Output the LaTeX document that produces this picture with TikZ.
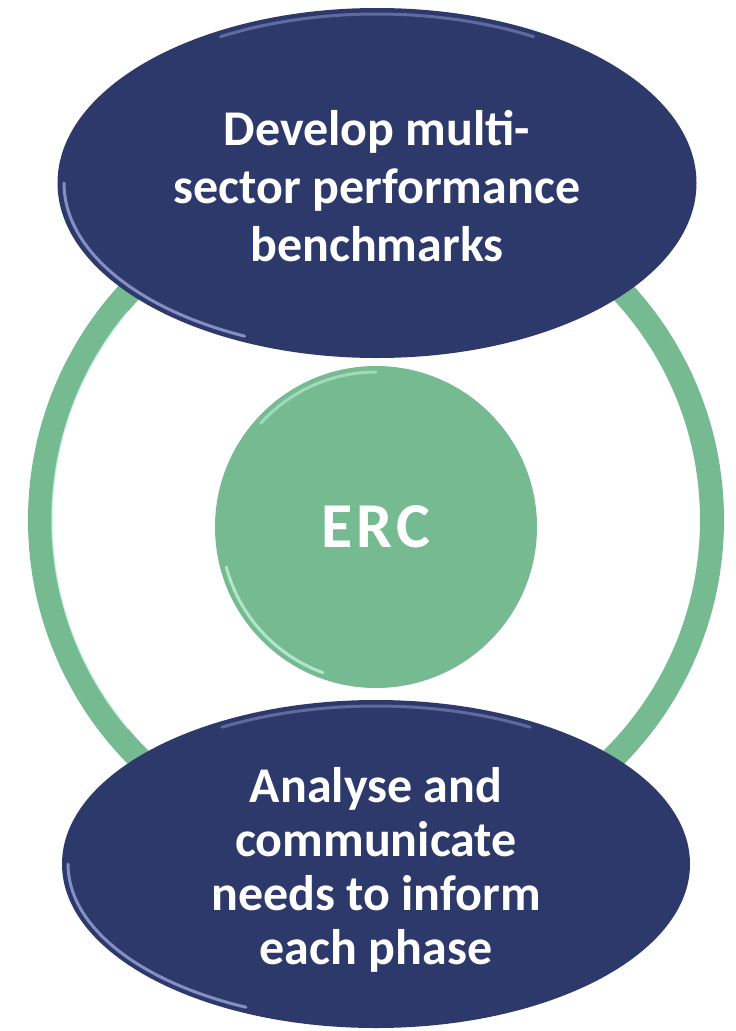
\documentclass[tikz,border=0pt]{standalone}
\usepackage{fontspec}
\setmainfont{Carlito}
\usepackage{tikz}
\usetikzlibrary{shapes.geometric}
\definecolor{navy}{RGB}{46,57,107}
\definecolor{navyhi}{RGB}{170,180,235}
\definecolor{mint}{RGB}{117,186,145}
\definecolor{minthi}{RGB}{205,250,228}
\tikzset{
    goal/.style={
        ellipse,
        fill=navy,
        inner sep=0pt
    },
    goaltext/.style={
        text=white,
        inner sep=0pt,
        align=center,
        font=\bfseries\fontsize{50}{58}\selectfont
    },
    hub/.style={
        circle,
        fill=mint,
        text=white,
        inner sep=0pt,
        minimum size=322pt,
        font=\bfseries\fontsize{64}{70}\selectfont\addfontfeature{LetterSpace=6}
    },
    gloss/.style={
        line width=3pt,
        opacity=0.7,
        line cap=round
    }
}

\begin{document}
\begin{tikzpicture}[x=1pt, y=-1pt]
  \useasboundingbox (0,0) rectangle (736,1031);

  % Outer ring
  \draw[mint, line width=24pt] (376,520) circle[radius=336pt];
  \draw[gloss, minthi, line width=1.5pt] (376,520) ++(140:324) arc[start angle=140, end angle=220, radius=324];

  % Centre of the cycle
  \node[hub] (erc) at (376,527) {ERC};
  \draw[gloss, minthi] (erc.center) ++(165:155) arc[start angle=165, end angle=110, radius=155];
  \draw[gloss, minthi, opacity=0.5] (erc.center) ++(222:155) arc[start angle=222, end angle=270, radius=155];

  % The two tasks
  \node[goal, minimum width=639pt, minimum height=350pt] (develop) at (377,183) {};
  \node[goaltext] (develop-text) at (377,186) {Develop multi-\\sector performance\\benchmarks};
  \node[goal, minimum width=628pt, minimum height=328pt] (analyse) at (376,864) {};
  \node[goaltext, font=\bfseries\fontsize{50}{54}\selectfont] (analyse-text) at (376,870)
    {Analyse and\\communicate\\needs to inform\\each phase};

  % Bevel highlights
  \draw[gloss, navyhi] (develop.center) ++(180:313 and 169) arc[start angle=180, end angle=115, x radius=313, y radius=169];
  \draw[gloss, navyhi, opacity=0.4] (develop.center) ++(240:313 and 169) arc[start angle=240, end angle=300, x radius=313, y radius=169];
  \draw[gloss, navyhi] (analyse.center) ++(180:308 and 158) arc[start angle=180, end angle=115, x radius=308, y radius=158];
  \draw[gloss, navyhi, opacity=0.4] (analyse.center) ++(240:308 and 158) arc[start angle=240, end angle=300, x radius=308, y radius=158];
\end{tikzpicture}
\end{document}
